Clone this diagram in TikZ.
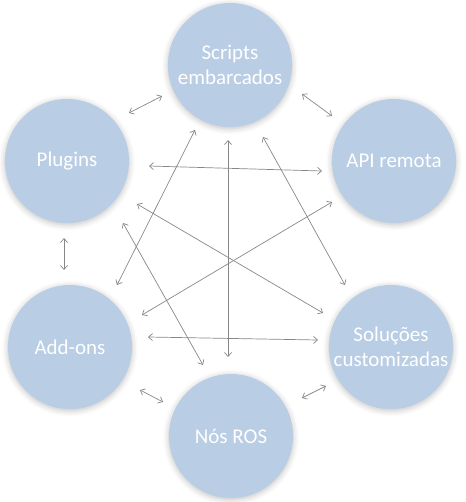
\documentclass[tikz,border=0pt]{standalone}
\usepackage{fontspec}
\setmainfont{Carlito}
\usetikzlibrary{arrows.meta,shadows.blur}
\definecolor{circfill}{RGB}{185,205,228}
\definecolor{linkgray}{RGB}{135,135,135}
\tikzset{
  bubble/.style={circle, fill=circfill, minimum size=124pt, inner sep=0pt,
    text=white, align=center, font=\fontsize{21}{25}\selectfont,
    blur shadow={shadow xshift=0pt, shadow yshift=-1.5pt, shadow blur radius=6pt, shadow opacity=25}},
  link/.style={draw=linkgray, line width=0.7pt,
    {Straight Barb[length=4pt,width=7pt]}-{Straight Barb[length=4pt,width=7pt]}}
}
\begin{document}
\begin{tikzpicture}[x=1pt,y=-1pt]
\useasboundingbox (0,0) rectangle (465,502);
\node[bubble] (scripts) at (230,65) {Scripts\\embarcados};
\node[bubble] (plugins) at (67,161) {Plugins};
\node[bubble] (api) at (394,161) {API remota};
\node[bubble] (addons) at (70,347) {Add-ons};
\node[bubble] (sol) at (391,347) {Soluções\\customizadas};
\node[bubble] (ros) at (231,436) {Nós ROS};
% connector end points
\coordinate (a1) at (129,113); \coordinate (a2) at (162,96);
\coordinate (b1) at (302,94);  \coordinate (b2) at (332,116);
\coordinate (c1) at (149,166); \coordinate (c2) at (322,171);
\coordinate (d1) at (195,130); \coordinate (d2) at (117,285);
\coordinate (e1) at (123,223); \coordinate (e2) at (203,365);
\coordinate (f1) at (228,140); \coordinate (f2) at (228,357);
\coordinate (g1) at (263,137); \coordinate (g2) at (345,285);
\coordinate (h1) at (137,204); \coordinate (h2) at (323,313);
\coordinate (i1) at (332,202); \coordinate (i2) at (142,315);
\coordinate (j1) at (148,337); \coordinate (j2) at (318,340);
\coordinate (k1) at (64,238);  \coordinate (k2) at (64,270);
\coordinate (l1) at (140,390); \coordinate (l2) at (163,402);
\coordinate (m1) at (302,398); \coordinate (m2) at (326,386);
\draw[link] (a1) -- (a2);
\draw[link] (b1) -- (b2);
\draw[link] (c1) -- (c2);
\draw[link] (d1) -- (d2);
\draw[link] (e1) -- (e2);
\draw[link] (f1) -- (f2);
\draw[link] (g1) -- (g2);
\draw[link] (h1) -- (h2);
\draw[link] (i1) -- (i2);
\draw[link] (j1) -- (j2);
\draw[link] (k1) -- (k2);
\draw[link] (l1) -- (l2);
\draw[link] (m1) -- (m2);
\end{tikzpicture}
\end{document}
